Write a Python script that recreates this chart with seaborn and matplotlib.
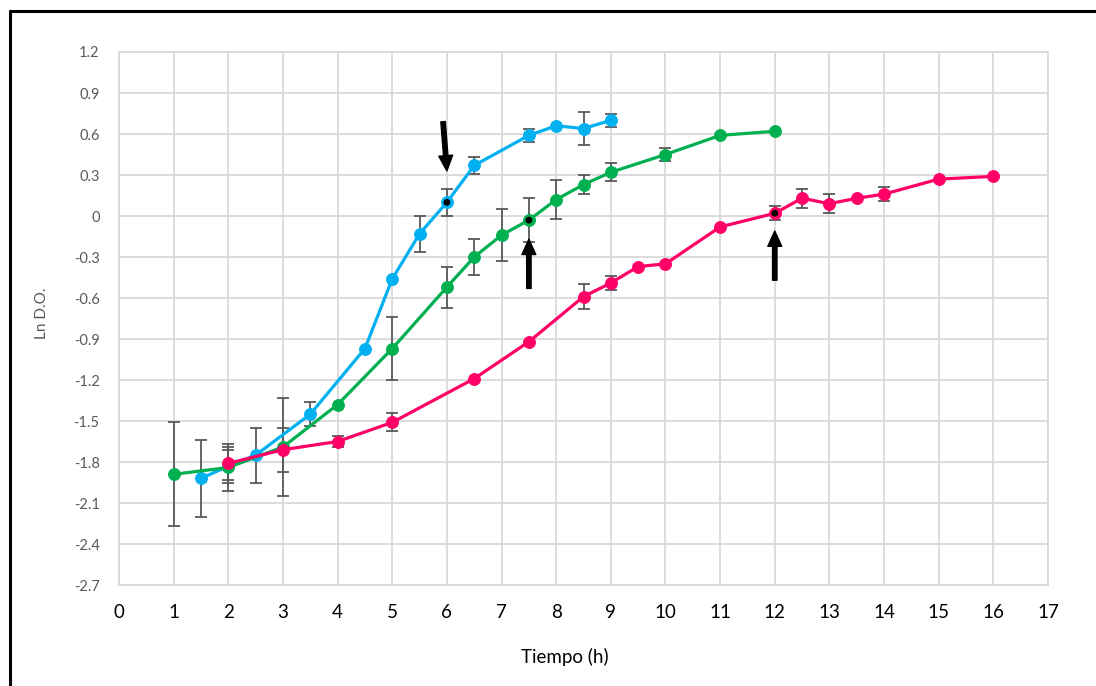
import matplotlib
matplotlib.use("Agg")
import matplotlib.pyplot as plt
import seaborn as sns
import pandas as pd
from matplotlib.lines import Line2D

# data
blue_t = [1.5, 2, 2.5, 3.5, 4.5, 5, 5.5, 6, 6.5, 7.5, 8, 8.5, 9]
blue_v = [-1.92, -1.83, -1.75, -1.45, -0.97, -0.46, -0.13, 0.10, 0.37, 0.59, 0.66, 0.64, 0.70]
blue_e = [0.28, 0.12, 0.20, 0.09, 0, 0, 0.13, 0.10, 0.06, 0.05, 0, 0.12, 0.05]

green_t = [1, 2, 3, 4, 5, 6, 6.5, 7, 7.5, 8, 8.5, 9, 10, 11, 12]
green_v = [-1.89, -1.84, -1.69, -1.38, -0.97, -0.52, -0.30, -0.14, -0.03, 0.12, 0.23, 0.32, 0.45, 0.59, 0.62]
green_e = [0.38, 0.17, 0.36, 0, 0.23, 0.15, 0.13, 0.19, 0.16, 0.14, 0.07, 0.065, 0.045, 0, 0]

pink_t = [2, 3, 4, 5, 6.5, 7.5, 8.5, 9, 9.5, 10, 11, 12, 12.5, 13, 13.5, 14, 15, 16]
pink_v = [-1.81, -1.71, -1.65, -1.51, -1.19, -0.92, -0.59, -0.49, -0.37, -0.35, -0.08, 0.02, 0.13, 0.09, 0.13, 0.16, 0.27, 0.29]
pink_e = [0.12, 0.16, 0.04, 0.066, 0, 0, 0.09, 0.05, 0, 0, 0, 0.05, 0.07, 0.07, 0, 0.05, 0, 0]

# highlighted points (black dots) and arrows
mark_t = [6, 7.5, 12]
mark_v = [0.10, -0.03, 0.02]

series = [
    ("blue", blue_t, blue_v, blue_e, "#00B0F0"),
    ("green", green_t, green_v, green_e, "#00B050"),
    ("pink", pink_t, pink_v, pink_e, "#FF0066"),
]

sns.set_style("whitegrid")
plt.rcParams["font.family"] = ["Lato", "DejaVu Sans"]

fig = plt.figure(figsize=(10.96, 6.86), dpi=100)
ax = fig.add_axes([0.1086, 0.1472, 0.8476, 0.777])

for name, t, v, e, col in series:
    df = pd.DataFrame({"t": t, "v": v, "e": e})
    sub = df[df["e"] > 0]
    ax.errorbar(sub["t"], sub["v"], yerr=sub["e"], fmt="none",
                ecolor="#595959", elinewidth=1.3, capsize=4, capthick=1.3, zorder=2)
    sns.lineplot(data=df, x="t", y="v", color=col, linewidth=2.3,
                 marker="o", markersize=8.5, markeredgecolor=col,
                 ax=ax, zorder=3)

sns.scatterplot(x=mark_t, y=mark_v, color="black", s=24, edgecolor="none",
                ax=ax, zorder=4)

arrow = dict(facecolor="black", edgecolor="black", width=3.2, headwidth=10,
             headlength=11, shrink=0)
ax.annotate("", xy=(6.0, 0.33), xytext=(5.93, 0.69), arrowprops=arrow)
ax.annotate("", xy=(7.5, -0.17), xytext=(7.5, -0.53), arrowprops=arrow)
ax.annotate("", xy=(12.0, -0.11), xytext=(12.0, -0.47), arrowprops=arrow)

ax.set_xlim(0, 17)
ax.set_ylim(-2.7, 1.2)
ax.set_xticks(range(0, 18))
yt = [round(-2.7 + 0.3 * i, 1) for i in range(14)]
ax.set_yticks(yt)
ax.set_yticklabels(["0" if abs(y) < 1e-9 else f"{y:g}" for y in yt])

ax.grid(True, color="#D9D9D9", linewidth=1.3)
for s in ax.spines.values():
    s.set_color("#D9D9D9")
    s.set_linewidth(1.3)

ax.tick_params(axis="x", length=0, pad=14, labelsize=13.5, labelcolor="black")
ax.tick_params(axis="y", length=0, pad=14, labelsize=10.5, labelcolor="#595959")

ax.set_xlabel("Tiempo (h)", fontsize=13.5, color="black")
ax.xaxis.set_label_coords(0.48, -0.118)
ax.set_ylabel("Ln D.O.", fontsize=11, color="#595959")
ax.yaxis.set_label_coords(-0.075, 0.51)

# black frame around the figure (left and top edges visible)
fig.add_artist(Line2D([10 / 1096, 10 / 1096], [0, 1 - 11 / 686], color="black", linewidth=2.2))
fig.add_artist(Line2D([10 / 1096, 1], [1 - 11 / 686, 1 - 11 / 686], color="black", linewidth=2.2))

fig.savefig("out.png", dpi=100)
